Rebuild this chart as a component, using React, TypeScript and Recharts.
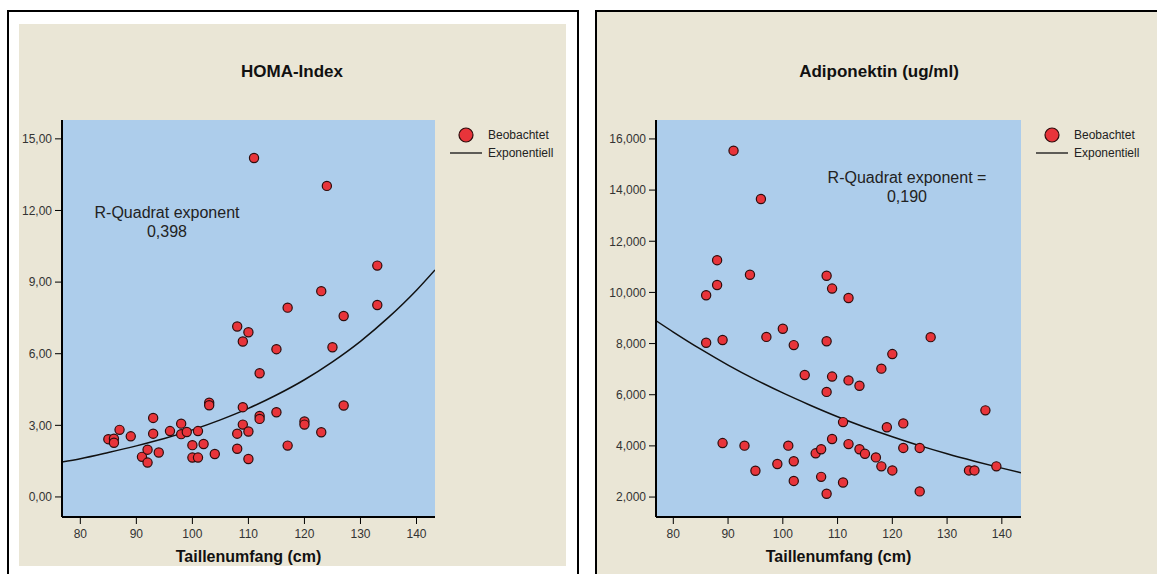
import { ComposedChart, Scatter, Line, XAxis, YAxis, CartesianGrid, ReferenceArea } from 'recharts'

const BEIGE = '#EAE6D6'
const BLUE = '#ADCDEB'
const RED = '#E8343A'
const FONT = '"Liberation Sans", Arial, sans-serif'

const waistTicks = [80, 90, 100, 110, 120, 130, 140]

// HOMA-Index
const homaWaist = [
  85, 86, 86, 87, 89, 91, 92, 92, 93, 93, 94, 96, 98, 98, 99, 100, 100, 101, 101, 102, 103, 103, 104, 108, 108,
  108, 109, 109, 109, 110, 110, 110, 111, 112, 112, 112, 115, 115, 117, 117, 120, 120, 123, 123, 124, 125, 127,
  127, 133, 133,
]
const homaValues = [
  2.42, 2.44, 2.27, 2.81, 2.54, 1.68, 1.98, 1.44, 3.31, 2.65, 1.86, 2.76, 3.07, 2.63, 2.72, 2.17, 1.65, 2.76, 1.65,
  2.22, 3.95, 3.84, 1.8, 7.14, 2.65, 2.02, 6.51, 3.76, 3.03, 6.9, 2.74, 1.59, 14.2, 5.18, 3.39, 3.27, 6.19, 3.55,
  7.93, 2.15, 3.16, 3.03, 8.62, 2.71, 13.03, 6.27, 7.58, 3.83, 9.69, 8.04,
]
const homaFitWaist = [76.7, 80, 85, 90, 95, 100, 105, 110, 115, 120, 125, 130, 135, 140, 143.3]
const homaFitValues = [1.46, 1.6, 1.86, 2.14, 2.45, 2.81, 3.23, 3.71, 4.27, 4.91, 5.66, 6.52, 7.52, 8.66, 9.51]
const homaTicks = [0, 3, 6, 9, 12, 15]

// Adiponektin (ug/ml)
const adipoWaist = [
  86, 86, 88, 88, 89, 89, 91, 93, 94, 95, 96, 97, 99, 100, 101, 102, 102, 102, 104, 106, 107, 107, 108, 108, 108,
  108, 109, 109, 109, 111, 111, 112, 112, 112, 114, 114, 115, 117, 118, 118, 119, 120, 120, 122, 122, 125, 125,
  127, 134, 135, 137, 139,
]
const adipoValues = [
  9.89, 8.03, 11.26, 10.29, 8.14, 4.11, 15.54, 4.01, 10.69, 3.03, 13.65, 8.26, 3.29, 8.58, 4.01, 7.94, 3.4, 2.63,
  6.77, 3.71, 3.87, 2.79, 10.65, 8.09, 6.11, 2.13, 10.15, 6.71, 4.27, 4.93, 2.57, 9.78, 6.56, 4.07, 6.35, 3.87,
  3.69, 3.55, 7.02, 3.2, 4.73, 7.59, 3.04, 4.88, 3.92, 3.92, 2.22, 8.25, 3.04, 3.04, 5.39, 3.2,
]
const adipoFitWaist = [76.8, 80, 85, 90, 95, 100, 105, 110, 115, 120, 125, 130, 135, 140, 143.5]
const adipoFitValues = [8.9, 8.45, 7.78, 7.16, 6.59, 6.07, 5.59, 5.14, 4.73, 4.36, 4.01, 3.69, 3.4, 3.13, 2.95]
const adipoTicks = [2, 4, 6, 8, 10, 12, 14, 16]

const zip = (xs: number[], ys: number[]) => xs.map((x, i) => ({ x, y: ys[i] }))

function Dot(props: any) {
  const { cx, cy } = props
  if (cx == null || cy == null) return null
  return <circle cx={cx} cy={cy} r={4.6} fill={RED} stroke="#2e0c0c" strokeWidth={1.2} />
}

interface PanelProps {
  title: string
  titleX: number
  note: string[]
  noteX: number
  noteY: number
  legendCircleX: number
  legendLine: [number, number]
  legendTextX: number
  left: number
  top: number
  width: number
  height: number
  yAxisWidth: number
  xAxisHeight: number
  marginTop: number
  marginRight: number
  labelOffset: number
  xDomain: [number, number]
  yDomain: [number, number]
  yTicks: number[]
  digits: number
  points: { x: number; y: number }[]
  fit: { x: number; y: number }[]
}

function Panel(p: PanelProps) {
  const abs = { position: 'absolute' as const }
  return (
    <>
      <div style={{ ...abs, left: p.left, top: p.top, width: p.width, height: p.height, background: BEIGE }}>
        <ComposedChart
          width={p.width}
          height={p.height}
          margin={{ top: p.marginTop, right: p.marginRight, bottom: 0, left: 0 }}
        >
          <CartesianGrid horizontal={false} vertical={false} fill={BLUE} />
          <ReferenceArea y1={p.yDomain[0]} fill="none" stroke="#666" strokeWidth={1} ifOverflow="visible" />
          <XAxis
            type="number"
            dataKey="x"
            domain={p.xDomain}
            ticks={waistTicks}
            allowDataOverflow
            height={p.xAxisHeight}
            tickSize={7}
            tickMargin={5}
            axisLine={{ stroke: '#000', strokeWidth: 2 }}
            tickLine={{ stroke: '#000' }}
            tick={{ fontSize: 12, fill: '#333' }}
            label={{
              value: 'Taillenumfang (cm)',
              position: 'insideBottom',
              offset: p.labelOffset,
              style: { fontSize: 16, fontWeight: 'bold', fill: '#111' },
            }}
          />
          <YAxis
            type="number"
            dataKey="y"
            domain={p.yDomain}
            ticks={p.yTicks}
            allowDataOverflow
            width={p.yAxisWidth}
            tickSize={7}
            tickMargin={3}
            axisLine={{ stroke: '#000', strokeWidth: 2 }}
            tickLine={{ stroke: '#000' }}
            tick={{ fontSize: 12, fill: '#333' }}
            tickFormatter={(v: number) => v.toFixed(p.digits).replace('.', ',')}
          />
          <Line
            data={p.fit}
            dataKey="y"
            type="monotone"
            stroke="#111"
            strokeWidth={1.5}
            dot={false}
            activeDot={false}
            isAnimationActive={false}
          />
          <Scatter data={p.points} dataKey="y" shape={<Dot />} isAnimationActive={false} />
        </ComposedChart>
      </div>
      <div
        style={{
          ...abs,
          left: p.titleX - 200,
          top: 62,
          width: 400,
          textAlign: 'center',
          fontSize: 17,
          lineHeight: '20px',
          fontWeight: 'bold',
          color: '#111',
        }}
      >
        {p.title}
      </div>
      <div
        style={{
          ...abs,
          left: p.noteX - 150,
          top: p.noteY - 10,
          width: 300,
          textAlign: 'center',
          fontSize: 16,
          lineHeight: '19px',
          color: '#222',
        }}
      >
        {p.note.map(t => (
          <div key={t}>{t}</div>
        ))}
      </div>
      <svg style={{ ...abs, left: 0, top: 0, overflow: 'visible' }} width={1} height={1}>
        <circle cx={p.legendCircleX} cy={135} r={7} fill={RED} stroke="#2e0c0c" strokeWidth={1.2} />
        <line x1={p.legendLine[0]} x2={p.legendLine[1]} y1={153} y2={153} stroke="#111" strokeWidth={1.3} />
      </svg>
      <div style={{ ...abs, left: p.legendTextX, top: 127, fontSize: 12, lineHeight: '16px', color: '#222' }}>
        Beobachtet
      </div>
      <div style={{ ...abs, left: p.legendTextX, top: 145, fontSize: 12, lineHeight: '16px', color: '#222' }}>
        Exponentiell
      </div>
    </>
  )
}

export default function App() {
  return (
    <div
      style={{
        position: 'absolute',
        left: 0,
        top: 0,
        width: 1157,
        height: 574,
        overflow: 'hidden',
        background: '#fff',
        fontFamily: FONT,
      }}
    >
      <div
        style={{
          position: 'absolute',
          left: 7,
          top: 10,
          width: 572,
          height: 600,
          border: '2px solid #000',
          boxSizing: 'border-box',
        }}
      />
      <div
        style={{
          position: 'absolute',
          left: 595,
          top: 10,
          width: 600,
          height: 600,
          border: '2px solid #000',
          boxSizing: 'border-box',
          background: BEIGE,
        }}
      />
      <Panel
        title="HOMA-Index"
        titleX={292}
        note={['R-Quadrat exponent', '0,398']}
        noteX={167}
        noteY={213}
        legendCircleX={466}
        legendLine={[450, 482]}
        legendTextX={488}
        left={19}
        top={24}
        width={547}
        height={542}
        yAxisWidth={43}
        xAxisHeight={49}
        marginTop={96}
        marginRight={131}
        labelOffset={4}
        xDomain={[76.73, 143.3]}
        yDomain={[-0.84, 15.79]}
        yTicks={homaTicks}
        digits={2}
        points={zip(homaWaist, homaValues)}
        fit={zip(homaFitWaist, homaFitValues)}
      />
      <Panel
        title="Adiponektin (ug/ml)"
        titleX={879}
        note={['R-Quadrat exponent =', '0,190']}
        noteX={907}
        noteY={178}
        legendCircleX={1052}
        legendLine={[1036, 1068]}
        legendTextX={1074}
        left={597}
        top={12}
        width={560}
        height={562}
        yAxisWidth={59}
        xAxisHeight={57}
        marginTop={108}
        marginRight={136}
        labelOffset={12}
        xDomain={[76.84, 143.5]}
        yDomain={[1.22, 16.74]}
        yTicks={adipoTicks}
        digits={3}
        points={zip(adipoWaist, adipoValues)}
        fit={zip(adipoFitWaist, adipoFitValues)}
      />
    </div>
  )
}
